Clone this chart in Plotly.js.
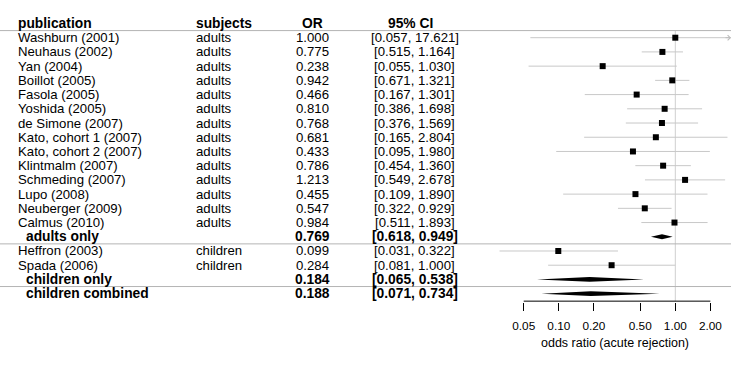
<!DOCTYPE html>
<html>
<head>
<meta charset="utf-8">
<script src="https://cdn.plot.ly/plotly-3.0.1.min.js"></script>
<style>
  html, body { margin: 0; padding: 0; background: #fff; }
  #forest { width: 747px; height: 374px; }
</style>
</head>
<body>
<div id="forest"></div>
<script>
// study level data, in display order
const publication = [
  'Washburn (2001)', 'Neuhaus (2002)', 'Yan (2004)', 'Boillot (2005)', 'Fasola (2005)',
  'Yoshida (2005)', 'de Simone (2007)', 'Kato, cohort 1 (2007)', 'Kato, cohort 2 (2007)',
  'Klintmalm (2007)', 'Schmeding (2007)', 'Lupo (2008)', 'Neuberger (2009)', 'Calmus (2010)',
  'Heffron (2003)', 'Spada (2006)'
];
const subjects = [
  'adults', 'adults', 'adults', 'adults', 'adults', 'adults', 'adults', 'adults', 'adults',
  'adults', 'adults', 'adults', 'adults', 'adults', 'children', 'children'
];
const oddsRatio = [1.000, 0.775, 0.238, 0.942, 0.466, 0.810, 0.768, 0.681, 0.433, 0.786, 1.213, 0.455, 0.547, 0.984, 0.099, 0.284];
const ciLower = [0.057, 0.515, 0.055, 0.671, 0.167, 0.386, 0.376, 0.165, 0.095, 0.454, 0.549, 0.109, 0.322, 0.511, 0.031, 0.081];
const ciUpper = [17.621, 1.164, 1.030, 1.321, 1.301, 1.698, 1.569, 2.804, 1.980, 1.360, 2.678, 1.890, 0.929, 1.893, 0.322, 1.000];

// pooled estimates
const summaryLabels = ['adults only', 'children only', 'children combined'];
const summaryOR = [0.769, 0.184, 0.188];
const summaryLower = [0.618, 0.065, 0.071];
const summaryUpper = [0.949, 0.538, 0.734];

const headers = ['publication', 'subjects', 'OR', '95% CI'];
const tickVals = [0.05, 0.1, 0.2, 0.5, 1, 2];
const tickText = ['0.05', '0.10', '0.20', '0.50', '1.00', '2.00'];
const xTitle = 'odds ratio (acute rejection)';

// layout constants (pixels)
const W = 747, H = 374;
const plotLeft = 480, plotRight = 731, plotBottom = 302;
const xRange = [-1.6764, 0.4781];
const yRange = [18.587, -2.651];
const axisRow = yRange[0] - 0.06;
const px = v => v / W;

const FONT = 'Liberation Sans, Arial, Helvetica, sans-serif';
const regular = { family: FONT, size: 13.2, color: '#000' };
const bold = { family: FONT, size: 13.8, color: '#000', weight: 'bold' };

// row positions: studies, with a pooled row after each subject group, then the overall row
let row = 0;
const studyRow = [];
const summaryRow = [];
publication.forEach((p, i) => {
  if (i > 0 && subjects[i] !== subjects[i - 1]) summaryRow.push(row++);
  studyRow.push(row++);
});
summaryRow.push(row++);
summaryRow.push(row++);

const fmt = v => v.toFixed(3);
const ci = (lo, hi) => `[${fmt(lo)}, ${fmt(hi)}]`;

const annotations = [];
function cell(text, x, y, anchor, font) {
  annotations.push({
    text: text, x: px(x), y: y, xref: 'paper', yref: 'y',
    xanchor: anchor, yanchor: 'middle', showarrow: false, font: font, borderpad: 0
  });
}

// header
cell(headers[0], 17, -1, 'left', bold);
cell(headers[1], 195, -1, 'left', bold);
cell(headers[2], 312, -1, 'center', bold);
cell(headers[3], 411, -1, 'center', bold);

publication.forEach((p, i) => {
  const r = studyRow[i];
  cell(p, 17, r, 'left', regular);
  cell(subjects[i], 195, r, 'left', regular);
  cell(fmt(oddsRatio[i]), 312, r, 'center', regular);
  cell(ci(ciLower[i], ciUpper[i]), 414.5, r, 'center', regular);
});

summaryLabels.forEach((s, i) => {
  const r = summaryRow[i];
  cell(s, 25, r, 'left', bold);
  cell(fmt(summaryOR[i]), 312, r, 'center', bold);
  cell(ci(summaryLower[i], summaryUpper[i]), 414.5, r, 'center', bold);
});

// arrows for intervals running past the axis
const xMax = Math.pow(10, xRange[1]);
ciUpper.forEach((hi, i) => {
  if (hi > xMax) {
    annotations.push({
      text: '', x: px(plotRight), y: studyRow[i], xref: 'paper', yref: 'y',
      showarrow: true, ax: -7, ay: 0, arrowhead: 4, arrowsize: 1, arrowwidth: 1,
      arrowcolor: '#bdbdbd', standoff: 0
    });
  }
});

// axis title
annotations.push({
  text: xTitle, x: px(614.7), y: (plotBottom - 343) / plotBottom, xref: 'paper', yref: 'paper',
  xanchor: 'center', yanchor: 'middle', showarrow: false,
  font: { family: FONT, size: 12.5, color: '#000' }
});

// confidence interval lines
const ciX = [], ciY = [];
publication.forEach((p, i) => {
  ciX.push(ciLower[i], ciUpper[i], null);
  ciY.push(studyRow[i], studyRow[i], null);
});

const ciLines = {
  type: 'scatter', mode: 'lines', x: ciX, y: ciY,
  line: { color: '#c8c8c8', width: 1 }, hoverinfo: 'skip', showlegend: false
};

// reference line at OR = 1
const refLine = {
  type: 'scatter', mode: 'lines', x: [1, 1], y: [-0.5, axisRow],
  line: { color: '#cfcfcf', width: 1 }, hoverinfo: 'skip', showlegend: false
};

// axis line spanning the tick range only
const axisLine = {
  type: 'scatter', mode: 'lines',
  x: [tickVals[0], tickVals[tickVals.length - 1]], y: [axisRow, axisRow],
  line: { color: '#000', width: 1 }, hoverinfo: 'skip', showlegend: false
};

const points = {
  type: 'scatter', mode: 'markers', x: oddsRatio, y: studyRow,
  marker: { symbol: 'square', size: 6, color: '#000' }, showlegend: false
};

const diamondHalf = 0.17;
const diamonds = summaryLabels.map((s, i) => {
  const r = summaryRow[i];
  return {
    type: 'scatter', mode: 'lines', fill: 'toself', fillcolor: '#000',
    x: [summaryLower[i], summaryOR[i], summaryUpper[i], summaryOR[i], summaryLower[i]],
    y: [r, r - diamondHalf, r, r + diamondHalf, r],
    line: { color: '#000', width: 0 }, showlegend: false, hoverinfo: 'skip'
  };
});

const sepRows = [-0.5, summaryRow[0] + 0.5, summaryRow[1] + 0.5];
const shapes = sepRows.map(r => ({
  type: 'line', xref: 'paper', yref: 'y', x0: 0, x1: px(plotRight), y0: r, y1: r,
  line: { color: '#b4b4b4', width: 1 }
}));

const layout = {
  width: W, height: H,
  margin: { l: 0, r: 0, t: 0, b: H - plotBottom },
  paper_bgcolor: '#fff', plot_bgcolor: '#fff',
  showlegend: false,
  xaxis: {
    type: 'log', domain: [px(plotLeft), px(plotRight)], range: xRange,
    tickvals: tickVals, ticktext: tickText, ticks: 'outside', ticklen: 8,
    tickcolor: '#000', tickwidth: 1, showgrid: false, zeroline: false, showline: false,
    ticklabelstandoff: 5,
    tickfont: { family: FONT, size: 11.8, color: '#000' }, fixedrange: true
  },
  yaxis: { range: yRange, visible: false, fixedrange: true },
  annotations: annotations,
  shapes: shapes
};

Plotly.newPlot('forest', [refLine, ciLines, axisLine, ...diamonds, points], layout, { staticPlot: true });
</script>
</body>
</html>
